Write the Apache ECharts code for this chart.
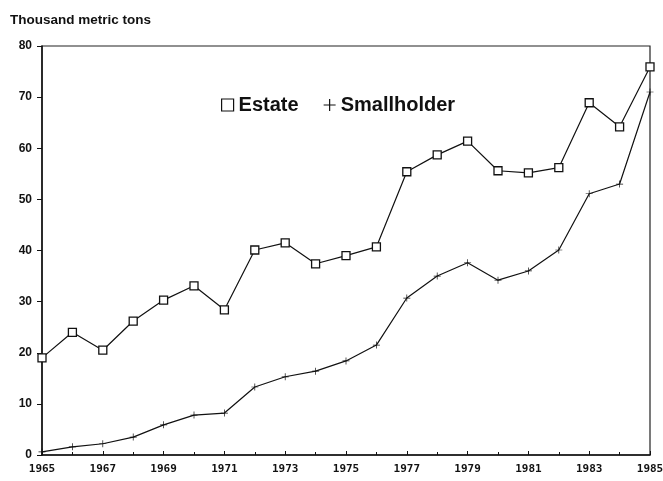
<!DOCTYPE html>
<html>
<head>
<meta charset="utf-8">
<script src="https://cdn.jsdelivr.net/npm/echarts@6/dist/echarts.min.js"></script>
<style>
  html, body { margin: 0; padding: 0; background: #fff; }
  #chart { width: 663px; height: 481px; }
</style>
</head>
<body>
<div id="chart"></div>
<script>
// data
const years = [1965, 1966, 1967, 1968, 1969, 1970, 1971, 1972, 1973, 1974, 1975,
  1976, 1977, 1978, 1979, 1980, 1981, 1982, 1983, 1984, 1985]
const estate = [19.0, 24.0, 20.5, 26.2, 30.3, 33.1, 28.4, 40.1, 41.5, 37.4, 39.0,
  40.7, 55.4, 58.7, 61.4, 55.6, 55.2, 56.2, 68.9, 64.2, 75.9]
const smallholder = [0.6, 1.6, 2.2, 3.5, 5.9, 7.8, 8.2, 13.3, 15.3, 16.4, 18.4,
  21.5, 30.7, 35.0, 37.6, 34.2, 36.0, 40.1, 51.1, 53.0, 71.0]
const yTicks = [0, 10, 20, 30, 40, 50, 60, 70, 80]

const plusIcon = 'path://M4.5,0h1v4.5h4.5v1h-4.5v4.5h-1v-4.5h-4.5v-1h4.5z'

const chart = echarts.init(document.getElementById('chart'))
chart.setOption({
  animation: false,
  title: {
    text: 'Thousand metric tons',
    left: 5,
    top: 8,
    textStyle: { fontFamily: 'Liberation Sans, Arial', fontWeight: 'bold', fontSize: 13.5, color: '#111' }
  },
  legend: {
    left: 216,
    top: 90,
    itemGap: 25,
    itemWidth: 12,
    itemHeight: 12,
    textStyle: { fontFamily: 'Liberation Sans, Arial', fontWeight: 'bold', fontSize: 20, color: '#111' },
    data: [
      { name: 'Estate', icon: 'rect', itemStyle: { color: '#fff', borderColor: '#111', borderWidth: 1.2 } },
      { name: 'Smallholder', icon: plusIcon, itemStyle: { color: '#111', borderWidth: 0 } }
    ]
  },
  grid: {
    left: 42,
    right: 13,
    top: 46,
    bottom: 26,
    outerBoundsMode: 'none',
    containLabel: false,
    show: true,
    borderColor: '#222',
    borderWidth: 1.2
  },
  xAxis: {
    type: 'value',
    min: 1965,
    max: 1985,
    interval: 2,
    axisLine: { lineStyle: { color: '#111', width: 1.5 } },
    axisTick: { inside: true, length: 4, lineStyle: { color: '#111' } },
    minorTick: { show: true, splitNumber: 2, length: 3, lineStyle: { color: '#111' } },
    splitLine: { show: false },
    axisLabel: {
      fontFamily: 'DejaVu Sans Mono, monospace',
      fontWeight: 'bold',
      fontSize: 11,
      color: '#111',
      margin: 9,
      showMaxLabel: true,
      formatter: v => String(v)
    }
  },
  yAxis: {
    type: 'value',
    min: yTicks[0],
    max: yTicks[yTicks.length - 1],
    interval: 10,
    axisLine: { show: true, lineStyle: { color: '#111', width: 1.5 } },
    axisTick: { show: true, length: 5, lineStyle: { color: '#111' } },
    splitLine: { show: false },
    axisLabel: {
      fontFamily: 'Liberation Sans, Arial',
      fontWeight: 'bold',
      fontSize: 12,
      color: '#111',
      margin: 10
    }
  },
  series: [
    {
      name: 'Estate',
      type: 'line',
      data: years.map((y, i) => [y, estate[i]]),
      symbol: 'rect',
      symbolSize: 8,
      lineStyle: { color: '#111', width: 1.2 },
      itemStyle: { color: '#fff', borderColor: '#111', borderWidth: 1.3 }
    },
    {
      name: 'Smallholder',
      type: 'line',
      data: years.map((y, i) => [y, smallholder[i]]),
      symbol: plusIcon,
      symbolSize: 7,
      lineStyle: { color: '#111', width: 1.2 },
      itemStyle: { color: '#111' }
    }
  ]
})
</script>
</body>
</html>
